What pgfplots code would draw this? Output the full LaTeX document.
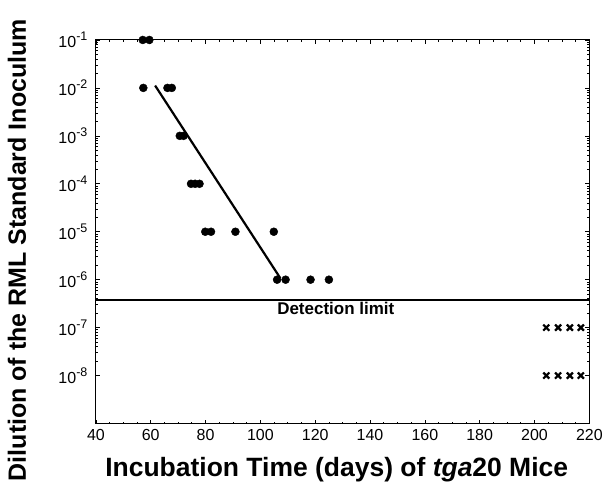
\documentclass[border=0pt]{standalone}
\usepackage{fontspec}
\setmainfont{Liberation Sans}
\usepackage{pgfplots}
\pgfplotsset{compat=1.18}
\newcommand{\tp}[1]{10\raisebox{0.42em}{\fontsize{12.5}{13}\selectfont #1}}
\begin{document}
\begin{tikzpicture}
\begin{semilogyaxis}[
  name=ax,
  scale only axis,
  width=494pt, height=384pt,
  xmin=40, xmax=220,
  ymin=1e-9, ymax=1e-1,
  clip=false,
  xtick={40,60,...,220},
  minor x tick num=3,
  ytick={1e-8,1e-7,1e-6,1e-5,1e-4,1e-3,1e-2,1e-1},
  yticklabels={\tp{-8},\tp{-7},\tp{-6},\tp{-5},\tp{-4},\tp{-3},\tp{-2},\tp{-1}},
  /pgf/number format/assume math mode=true,
  tick align=inside,
  major tick length=4pt,
  minor tick length=2pt,
  axis line style={line width=1pt},
  tick style={line width=0.7pt, black},
  ticklabel style={font=\fontsize{16}{18}\selectfont},
  xticklabel style={yshift=-2pt},
  yticklabel style={xshift=-5pt},
  xlabel={\bfseries Incubation Time (days) of \textit{tga}20 Mice},
  ylabel={\bfseries Dilution of the RML Standard Inoculum},
  xlabel style={font=\fontsize{26.5}{28}\selectfont, at={(axis description cs:0.488,-0.12)}, anchor=center},
  ylabel style={font=\fontsize{25}{27}\selectfont, at={(axis description cs:-0.16,0.452)}, anchor=center},
]
% detection limit
\addplot[black, line width=2pt] coordinates {(40,3.8e-7) (220,3.8e-7)};
% regression line
\addplot[black, line width=2.2pt] coordinates {(61.6,1.12e-2) (107.3,1.07e-6)};
% positive transmissions
\addplot[only marks, mark=*, mark size=4pt, black] coordinates {
(57.1,1e-1) (59.5,1e-1)
(57.3,1e-2) (66.1,1e-2) (67.7,1e-2)
(70.6,1e-3) (72,1e-3)
(74.7,1e-4) (76.2,1e-4) (77.8,1e-4)
(79.9,1e-5) (82,1e-5) (90.9,1e-5) (104.9,1e-5)
(106.1,1e-6) (109.2,1e-6) (118.3,1e-6) (125,1e-6)
};
% no disease
\addplot[only marks, mark=x, mark size=4.3pt, black, mark options={line width=2.2pt}] coordinates {
(204.3,1e-7) (208.6,1e-7) (212.9,1e-7) (216.9,1e-7)
(204.3,1e-8) (208.6,1e-8) (212.9,1e-8) (216.9,1e-8)
};
\node[below, font=\bfseries\fontsize{17}{19}\selectfont, inner sep=2pt] at (axis cs:127.5,3.8e-7) {Detection limit};
\end{semilogyaxis}
\path[use as bounding box] ([xshift=-96pt,yshift=-68pt]ax.south west) rectangle ([xshift=16pt,yshift=40pt]ax.north east);
\end{tikzpicture}
\end{document}
